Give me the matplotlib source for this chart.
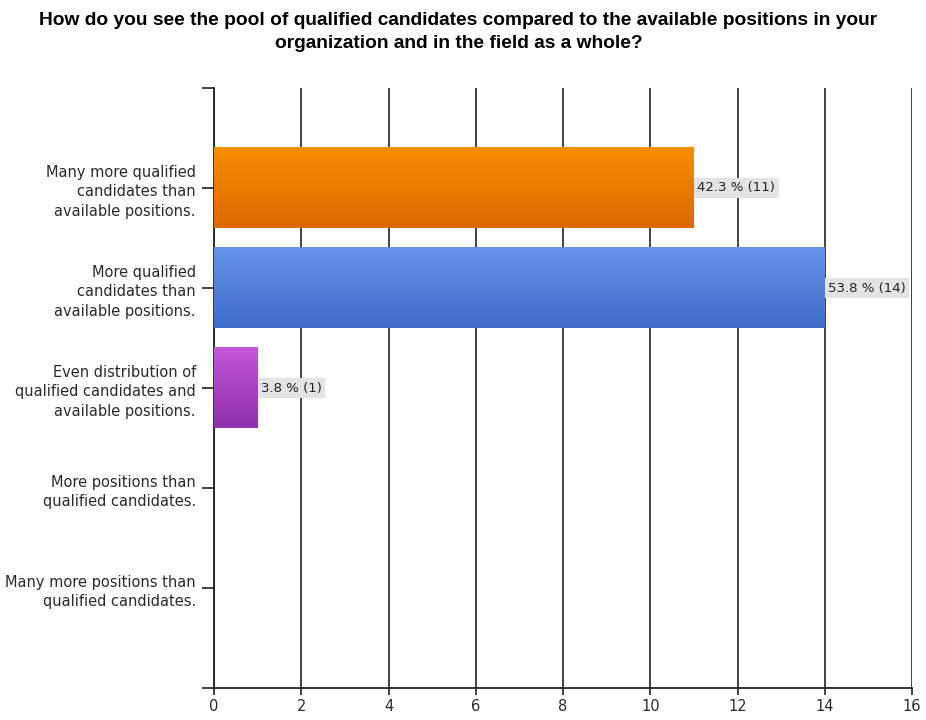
import matplotlib.pyplot as plt
import numpy as np
from matplotlib.colors import LinearSegmentedColormap

categories = [
    "Many more qualified\ncandidates than\navailable positions.",
    "More qualified\ncandidates than\navailable positions.",
    "Even distribution of\nqualified candidates and\navailable positions.",
    "More positions than\nqualified candidates.",
    "Many more positions than\nqualified candidates.",
]
counts = [11, 14, 1, 0, 0]
percents = [42.3, 53.8, 3.8, 0.0, 0.0]
x_ticks = [0, 2, 4, 6, 8, 10, 12, 14, 16]

# top / bottom shade of each bar's vertical gradient
bar_shades = [
    ("#f68e00", "#dc6800"),
    ("#6593ea", "#3f6cc8"),
    ("#c456dc", "#8f2fae"),
    ("#999999", "#777777"),
    ("#999999", "#777777"),
]

plt.rcParams['font.family'] = ['DejaVu Sans']

fig = plt.figure(figsize=(9.26, 7.2), dpi=100)
ax = fig.add_axes([0.2311, 0.0444, 0.7539, 0.8334])

y = np.arange(len(categories))
bars = ax.barh(y, counts, height=0.8, color="none", edgecolor="none", zorder=3)

for bar, (top, bottom) in zip(bars, bar_shades):
    w = bar.get_width()
    if w <= 0:
        continue
    x0, y0 = bar.get_x(), bar.get_y()
    h = bar.get_height()
    cmap = LinearSegmentedColormap.from_list("g", [top, bottom])
    grad = np.linspace(0, 1, 100).reshape(-1, 1)
    # inverted y axis: y0 is the top edge on screen
    ax.imshow(grad, cmap=cmap, aspect="auto", extent=(x0, x0 + w, y0 + h, y0),
              zorder=3, interpolation="bicubic")

for yi, c, p in zip(y, counts, percents):
    if c <= 0:
        continue
    ax.text(c + 0.08, yi, f"{p:.1f} % ({c})", va="center", ha="left",
            fontsize=9.5, color="#222222", zorder=5,
            bbox=dict(boxstyle="square,pad=0.25", facecolor="#e3e3e3",
                      edgecolor="none"))

ax.set_xlim(0, 16)
ax.set_ylim(5, -1)
ax.set_xticks(x_ticks)
ax.set_xticklabels([str(t) for t in x_ticks], fontsize=10.5, color="#2a2a2a")
ax.set_yticks(y)
ax.set_yticklabels(categories, fontsize=10.5, color="#2a2a2a", linespacing=1.4)
ax.set_yticks([-1, 5], minor=True)

ax.grid(axis="x", color="#222222", linewidth=1.2, zorder=1)
ax.set_axisbelow(True)
for side in ["top", "right"]:
    ax.spines[side].set_visible(False)
for side in ["left", "bottom"]:
    ax.spines[side].set_color("#222222")
    ax.spines[side].set_linewidth(1.3)

ax.tick_params(axis="y", which="both", length=9, width=1.2, color="#222222", pad=4)
ax.tick_params(axis="x", length=5, width=1.2, color="#222222", pad=3)

fig.text(0.495, 0.983,
         "How do you see the pool of qualified candidates compared to the available positions in your\n"
         "organization and in the field as a whole?",
         ha="center", va="top", fontsize=13.8, fontweight="bold",
         family="Liberation Sans", linespacing=1.45)

fig.savefig("out.png", dpi=100)
